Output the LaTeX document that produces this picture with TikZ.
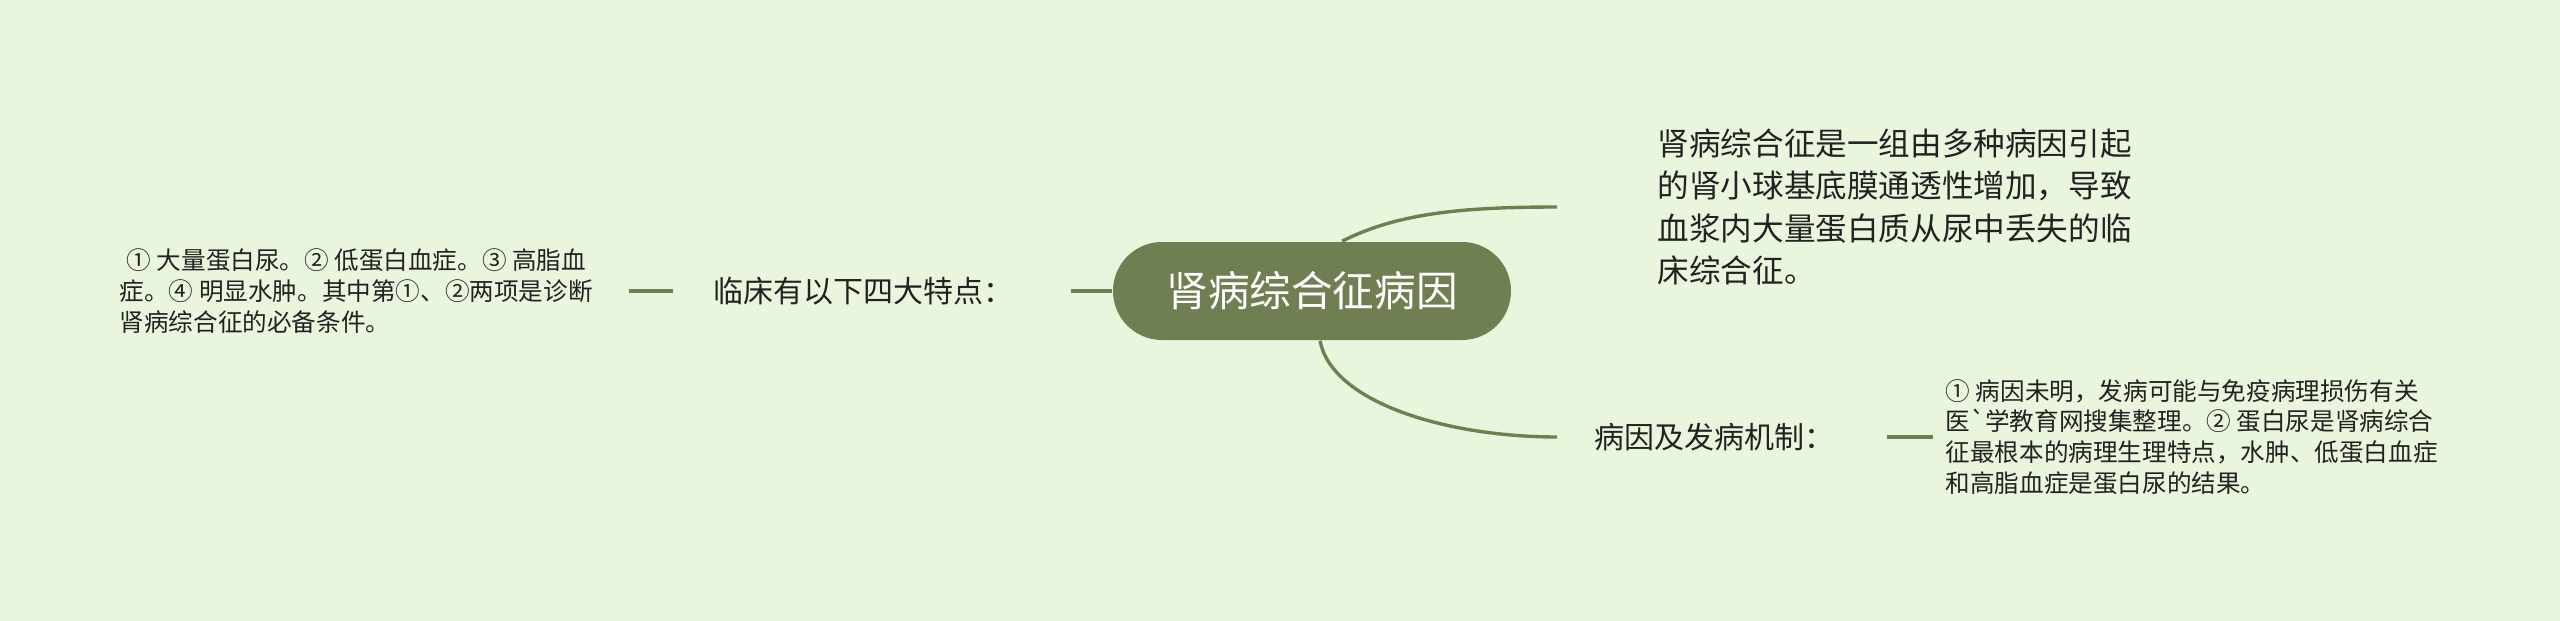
\documentclass[tikz,border=0pt]{standalone}
\usepackage{fontspec}
\newfontfamily\cjk{Noto Sans CJK SC}
\definecolor{bgcol}{HTML}{E9F5DC}
\definecolor{olive}{HTML}{707F52}
\definecolor{ink}{HTML}{222222}

\tikzset{every picture/.style={line width=0.75pt}}
\tikzset{
  rootbox/.style={fill=olive, text=white, rounded corners=24.5pt, minimum width=199pt, minimum height=49pt, inner sep=0pt, font=\cjk\fontsize{20.8}{25}\selectfont},
  topic/.style={text=ink, inner sep=0pt, anchor=west, font=\cjk\fontsize{15}{18}\selectfont},
  para/.style={text=ink, inner sep=0pt, anchor=west, align=left, font=\cjk\fontsize{15.8}{21.2}\selectfont},
  note/.style={text=ink, inner sep=0pt, anchor=west, align=left, font=\cjk\fontsize{12.3}{15.4}\selectfont},
  link/.style={draw=olive, line width=1.7pt},
  stub/.style={draw=olive, line width=2pt}
}

\begin{document}
\begin{tikzpicture}[x=0.5pt,y=-0.5pt]
	%set diagram to 2560 x 621
	\fill[bgcol] (0,0) rectangle (2560,621);
	\useasboundingbox (0,0) rectangle (2560,621);

	%Shape: Rounded Rect [id:root]
	\node[rootbox] (root) at (1312,291) {肾病综合征病因};

	% Text Node
	\node[topic] (feat) at (713,291) {临床有以下四大特点：};
	% Text Node
	\node[note] (featd) at (119,291) {\hspace*{3.5pt}① 大量蛋白尿。② 低蛋白血症。③ 高脂血\\症。④ 明显水肿。其中第①、②两项是诊断\\肾病综合征的必备条件。};
	% Text Node
	\node[para] (defn) at (1657,207) {肾病综合征是一组由多种病因引起\\的肾小球基底膜通透性增加，导致\\血浆内大量蛋白质从尿中丢失的临\\床综合征。};
	% Text Node
	\node[topic] (cause) at (1594,437) {病因及发病机制：};
	% Text Node
	\node[note] (caused) at (1945,437) {① 病因未明，发病可能与免疫病理损伤有关\\医`学教育网搜集整理。② 蛋白尿是肾病综合\\征最根本的病理生理特点，水肿、低蛋白血症\\和高脂血症是蛋白尿的结果。};

	%Straight Lines
	\draw[stub] (root.west) -- ([xshift=28pt]feat.east);
	\draw[stub] ([xshift=-20pt]feat.west) -- ([xshift=-42pt]feat.west);
	\draw[stub] ([xshift=25.5pt]cause.east) -- ([xshift=-6pt]caused.west);
	%Curves
	\draw[link] ([xshift=15pt]root.north) .. controls +(55,-28) and +(-95,0) .. ([xshift=-50pt]defn.west);
	\draw[link] ([xshift=4pt]root.south) .. controls +(12,62) and +(-110,0) .. ([xshift=-18.5pt]cause.west);
\end{tikzpicture}
\end{document}
